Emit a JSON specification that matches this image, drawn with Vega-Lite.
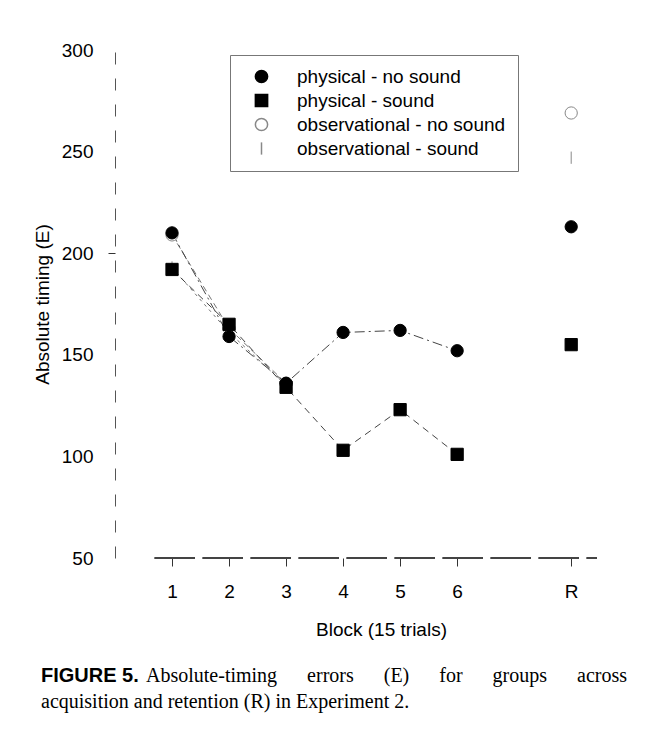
{
  "$schema": "https://vega.github.io/schema/vega-lite/v6.json",
  "width": 483,
  "height": 508,
  "autosize": {"type": "none"},
  "padding": {"left": 115, "top": 50, "right": 52, "bottom": 175},
  "background": "white",
  "config": {
    "view": {"stroke": null},
    "font": "Liberation Sans"
  },
  "title": {
    "text": "FIGURE 5.",
    "subtitle": ["\u200b\u00a0\u00a0\u00a0\u00a0\u00a0\u00a0\u00a0\u00a0\u00a0\u00a0\u00a0\u00a0\u00a0\u00a0\u00a0\u00a0\u00a0\u00a0\u00a0\u00a0\u00a0Absolute-timing\u00a0\u00a0\u00a0\u00a0\u00a0 errors\u00a0\u00a0\u00a0\u00a0\u00a0 (E)\u00a0\u00a0\u00a0\u00a0\u00a0 for\u00a0\u00a0\u00a0\u00a0\u00a0 groups\u00a0\u00a0\u00a0\u00a0\u00a0 across", "acquisition and retention (R) in Experiment 2."],
    "orient": "bottom",
    "anchor": "start",
    "frame": "group",
    "offset": 27,
    "dx": -74,
    "font": "Liberation Sans",
    "fontSize": 20,
    "fontWeight": "bold",
    "color": "black",
    "subtitleFont": "Liberation Serif",
    "subtitleFontSize": 20,
    "subtitleColor": "black",
    "subtitlePadding": -20,
    "subtitleLineHeight": 26
  },
  "data": {
    "values": [
      {"block": 1, "E": 209, "group": "observational - no sound"},
      {"block": 2, "E": 163, "group": "observational - no sound"},
      {"block": 3, "E": 136, "group": "observational - no sound"},
      {"block": 8, "E": 269, "group": "observational - no sound"},
      {"block": 1, "E": 193, "group": "observational - sound"},
      {"block": 2, "E": 161, "group": "observational - sound"},
      {"block": 3, "E": 135, "group": "observational - sound"},
      {"block": 8, "E": 247, "group": "observational - sound"},
      {"block": 1, "E": 210, "group": "physical - no sound"},
      {"block": 2, "E": 159, "group": "physical - no sound"},
      {"block": 3, "E": 136, "group": "physical - no sound"},
      {"block": 4, "E": 161, "group": "physical - no sound"},
      {"block": 5, "E": 162, "group": "physical - no sound"},
      {"block": 6, "E": 152, "group": "physical - no sound"},
      {"block": 8, "E": 213, "group": "physical - no sound"},
      {"block": 1, "E": 192, "group": "physical - sound"},
      {"block": 2, "E": 165, "group": "physical - sound"},
      {"block": 3, "E": 134, "group": "physical - sound"},
      {"block": 4, "E": 103, "group": "physical - sound"},
      {"block": 5, "E": 123, "group": "physical - sound"},
      {"block": 6, "E": 101, "group": "physical - sound"},
      {"block": 8, "E": 155, "group": "physical - sound"}
    ]
  },
  "encoding": {
    "x": {
      "field": "block",
      "type": "quantitative",
      "scale": {"domain": [0, 8.47], "nice": false, "zero": false},
      "axis": {
        "values": [1, 2, 3, 4, 5, 6, 8],
        "labelExpr": "datum.value == 8 ? 'R' : datum.label",
        "domain": false,
        "grid": false,
        "tickSize": 8,
        "tickColor": "#333",
        "labelFont": "Liberation Sans",
        "labelFontSize": 19,
        "labelColor": "black",
        "labelPadding": 16,
        "title": "Block (15 trials)",
        "titleFont": "Liberation Sans",
        "titleFontSize": 19,
        "titleFontWeight": "normal",
        "titleColor": "black",
        "titleX": 266,
        "titleY": 71,
        "titleBaseline": "middle",
        "titleAlign": "center"
      }
    },
    "y": {
      "field": "E",
      "type": "quantitative",
      "scale": {"domain": [50, 300], "nice": false, "zero": false},
      "axis": {
        "values": [50, 100, 150, 200, 250, 300],
        "grid": false,
        "domainColor": "#555",
        "domainDash": [12, 14],
        "tickSize": 7,
        "tickColor": {"condition": {"test": "datum.value == 200", "value": "#333"}, "value": "transparent"},
        "labelFont": "Liberation Sans",
        "labelFontSize": 19,
        "labelColor": "black",
        "labelPadding": 15,
        "title": "Absolute timing (E)",
        "titleFont": "Liberation Sans",
        "titleFontSize": 19,
        "titleFontWeight": "normal",
        "titleColor": "black",
        "titleAngle": -90,
        "titleX": -73,
        "titleY": 254,
        "titleBaseline": "middle",
        "titleAlign": "center"
      }
    }
  },
  "layer": [
    {
      "mark": {"type": "rule", "color": "#444", "strokeWidth": 1, "strokeDash": [40, 8]},
      "encoding": {
        "x": {"datum": 0.7},
        "x2": {"datum": 8.45},
        "y": {"datum": 50}
      }
    },
    {
      "transform": [{"filter": "datum.group == 'observational - no sound' && datum.block <= 6"}],
      "mark": {"type": "line", "color": "#777", "strokeWidth": 1, "strokeDash": [6, 4]},
      "encoding": {}
    },
    {
      "transform": [{"filter": "datum.group == 'observational - sound' && datum.block <= 6"}],
      "mark": {"type": "line", "color": "#777", "strokeWidth": 1, "strokeDash": [3, 4]},
      "encoding": {}
    },
    {
      "transform": [{"filter": "datum.group == 'physical - no sound' && datum.block <= 6"}],
      "mark": {"type": "line", "color": "#444", "strokeWidth": 1, "strokeDash": [10, 4, 2, 4]},
      "encoding": {}
    },
    {
      "transform": [{"filter": "datum.group == 'physical - sound' && datum.block <= 6"}],
      "mark": {"type": "line", "color": "#444", "strokeWidth": 1, "strokeDash": [7, 5]},
      "encoding": {}
    },
    {
      "mark": {"type": "point", "filled": true, "opacity": 1, "size": 150, "strokeWidth": 1},
      "encoding": {
        "shape": {
          "field": "group",
          "scale": {
            "domain": ["physical - no sound", "physical - sound", "observational - no sound", "observational - sound"],
            "range": ["circle", "square", "circle", "M0,-1L0,1"]
          },
          "legend": {"title": null, "orient": "none", "legendX": 115, "legendY": 5, "padding": 12, "strokeColor": "#777", "labelFont": "Liberation Sans", "labelFontSize": 19, "labelColor": "black", "labelLimit": 400, "symbolSize": 150, "rowPadding": 4, "symbolOffset": 10, "labelOffset": 26}
        },
        "color": {
          "field": "group",
          "scale": {
            "domain": ["physical - no sound", "physical - sound", "observational - no sound", "observational - sound"],
            "range": ["black", "black", "white", "#888"]
          },
          "legend": {"title": null, "orient": "none", "legendX": 115, "legendY": 5, "padding": 12, "strokeColor": "#777", "labelFont": "Liberation Sans", "labelFontSize": 19, "labelColor": "black", "labelLimit": 400, "symbolSize": 150, "rowPadding": 4, "symbolOffset": 10, "labelOffset": 26}
        },
        "stroke": {
          "field": "group",
          "scale": {
            "domain": ["physical - no sound", "physical - sound", "observational - no sound", "observational - sound"],
            "range": ["black", "black", "#888", "#888"]
          },
          "legend": {"title": null, "orient": "none", "legendX": 115, "legendY": 5, "padding": 12, "strokeColor": "#777", "labelFont": "Liberation Sans", "labelFontSize": 19, "labelColor": "black", "labelLimit": 400, "symbolSize": 150, "rowPadding": 4, "symbolOffset": 10, "labelOffset": 26}
        }
      }
    }
  ]
}
